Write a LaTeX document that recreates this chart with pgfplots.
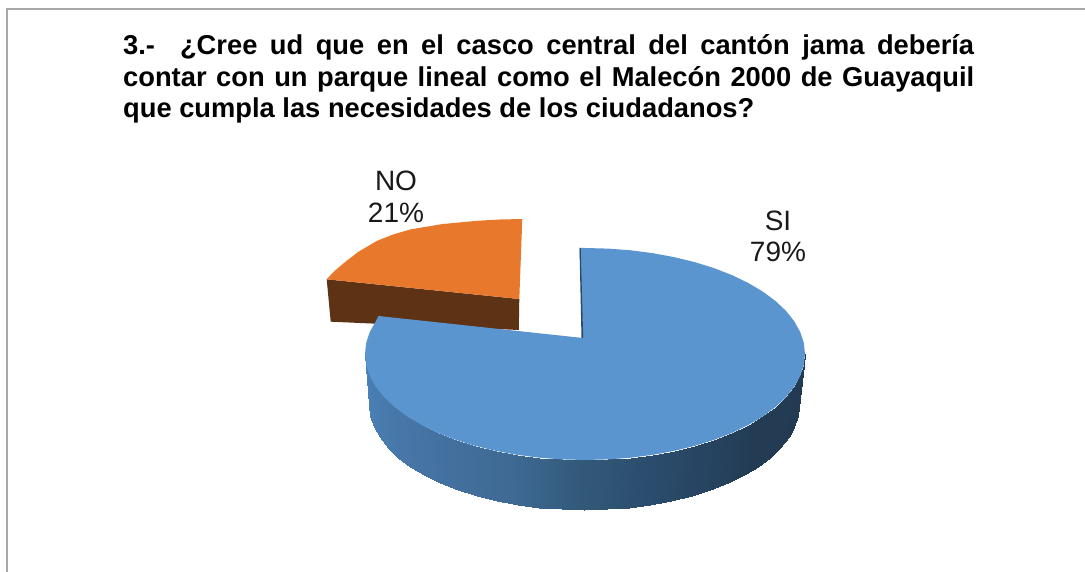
\documentclass[border=0pt]{standalone}
\usepackage{fontspec}
\setmainfont{Liberation Sans}
\usepackage{pgfplots}
\pgfplotsset{compat=1.18}
\definecolor{piebluetop}{HTML}{5B95CF}
\definecolor{pieorange}{HTML}{E8792C}
\definecolor{piebrown}{HTML}{5E3214}
\definecolor{piedark}{HTML}{2A4A6A}
\definecolor{frameg}{HTML}{A8A8A8}
\pgfplotsset{colormap={pieside}{
 rgb255(0)=(34,58,82) rgb255(40)=(35,60,84) rgb255(70)=(42,75,107) rgb255(90)=(50,88,120)
 rgb255(110)=(62,106,148) rgb255(140)=(70,116,164) rgb255(180)=(74,130,184)}}
\begin{document}
\begin{tikzpicture}
\useasboundingbox (0,0) rectangle (1085pt,572pt);
\begin{axis}[
  at={(0,0)}, anchor=south west, width=1085pt, height=572pt, scale only axis,
  xmin=0, xmax=1085, ymin=0, ymax=572, y dir=reverse,
  axis lines=none, clip=true,
  colormap name=pieside, point meta min=0, point meta max=180,
]
% frame
\addplot[draw=frameg, line width=2pt] coordinates {(7,572) (7,9.5) (1085,9.5)};
% NO slice
\addplot[fill=piebrown, draw=none] coordinates {(326.7,279.3) (519.3,299) (518.8,330) (330.7,321.7)};
\addplot[fill=pieorange, draw=none] coordinates {(519.3,299) (326.7,279.3) (334,271.5) (343.3,263.5) (358,252) (376.7,241) (393,234.5) (410,229.5) (443,224) (477,220.8) (500,219.5) (522.3,219)};
% SI slice side
\addplot[surf, shader=interp, mesh/rows=2, mesh/cols=31, point meta=explicit] table[meta=m] {
x y m
805.0 354.0 0
803.8 365.1 6
800.2 376.0 12
794.2 386.8 18
786.0 397.1 24
775.5 407.0 30
763.0 416.3 36
748.5 424.9 42
732.2 432.8 48
714.3 439.8 54
695.0 445.8 60
674.5 450.8 66
653.0 454.8 72
630.7 457.7 78
608.0 459.4 84
585.0 460.0 90
562.0 459.4 96
539.3 457.7 102
517.0 454.8 108
495.5 450.8 114
475.0 445.8 120
455.7 439.8 126
437.8 432.8 132
421.5 424.9 138
407.0 416.3 144
394.5 407.0 150
384.0 397.1 156
375.8 386.8 162
369.8 376.0 168
366.2 365.1 174
365.0 354.0 180
799.0 405.0 0
797.8 416.0 6
794.3 426.8 12
788.5 437.4 18
780.4 447.7 24
770.2 457.5 30
757.9 466.7 36
743.8 475.3 42
727.9 483.0 48
710.4 489.9 54
691.5 495.9 60
671.4 500.9 66
650.4 504.9 72
628.7 507.7 78
606.5 509.4 84
584.0 510.0 90
561.5 509.4 96
539.3 507.7 102
517.6 504.9 108
496.6 500.9 114
476.5 495.9 120
457.6 489.9 126
440.1 483.0 132
424.2 475.3 138
410.1 466.7 144
397.8 457.5 150
387.6 447.7 156
379.5 437.4 162
373.7 426.8 168
370.2 416.0 174
369.0 405.0 180
};
% SI slice top
\addplot[fill=piebluetop, draw=none] coordinates {
(583,338) (579.5,248) (585,248) (608,248.6) (630.7,250.3) (653,253.2) (674.5,257.2) (695,262.2)
(714.3,268.2) (732.2,275.2) (748.5,283.1) (763,291.7) (775.5,301) (786,310.9) (794.2,321.2)
(800.2,332) (803.8,342.9) (805,354)
(803.8,365.1) (800.2,376) (794.2,386.8) (786,397.1) (775.5,407) (763,416.3) (748.5,424.9)
(732.2,432.8) (714.3,439.8) (695,445.8) (674.5,450.8) (653,454.8) (630.7,457.7) (608,459.4)
(585,460) (562,459.4) (539.3,457.7) (517,454.8) (495.5,450.8) (475,445.8) (455.7,439.8)
(437.8,432.8) (421.5,424.9) (407,416.3) (394.5,407) (384,397.1) (375.8,386.8) (369.8,376)
(366.2,365.1) (365,354) (366.2,342.9) (369.8,332) (375.8,321.2) (378.5,316)};
\addplot[fill=piedark, draw=none] coordinates {(579.5,248) (580.7,248) (583.2,338) (581.5,338)};
% title and labels
\node[anchor=base west, inner sep=0pt, font=\fontsize{27.3}{31}\selectfont\bfseries] at (axis cs:123,55)
  {\makebox[851pt][s]{3.-\ \ ¿Cree ud que en el casco central del cantón jama debería}};
\node[anchor=base west, inner sep=0pt, font=\fontsize{27.3}{31}\selectfont\bfseries] at (axis cs:123,87)
  {\makebox[851pt][s]{contar con un parque lineal como el Malecón 2000 de Guayaquil}};
\node[anchor=base west, inner sep=0pt, font=\fontsize{27.3}{31}\selectfont\bfseries] at (axis cs:123,118)
  {que cumpla las necesidades de los ciudadanos?};
\node[anchor=base, inner sep=0pt, font=\fontsize{28}{32}\selectfont, text=black!90] at (axis cs:396,191) {NO};
\node[anchor=base, inner sep=0pt, font=\fontsize{28}{32}\selectfont, text=black!90] at (axis cs:396,223) {21\%};
\node[anchor=base, inner sep=0pt, font=\fontsize{28}{32}\selectfont, text=black!90] at (axis cs:778,231) {SI};
\node[anchor=base, inner sep=0pt, font=\fontsize{28}{32}\selectfont, text=black!90] at (axis cs:778,262) {79\%};
\end{axis}
\end{tikzpicture}
\end{document}
